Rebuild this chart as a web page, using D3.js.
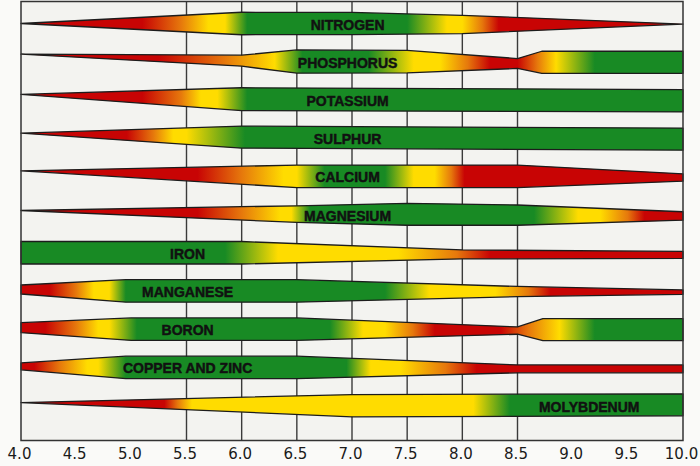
<!DOCTYPE html>
<html>
<head>
<meta charset="utf-8">
<script src="https://cdn.jsdelivr.net/npm/d3@7"></script>
<style>
  html, body { margin: 0; padding: 0; background: #fafaf8; }
  svg { display: block; }
</style>
</head>
<body>
<svg id="chart" width="700" height="466"></svg>
<script>
// ---------- DATA ----------
const phTicks = [4.0, 4.5, 5.0, 5.5, 6.0, 6.5, 7.0, 7.5, 8.0, 8.5, 9.0, 9.5, 10.0];
const gridPH = [5.5, 6.0, 6.5, 7.0, 7.5, 8.0, 8.5];

const nutrients = ["NITROGEN", "PHOSPHORUS", "POTASSIUM", "SULPHUR", "CALCIUM",
  "MAGNESIUM", "IRON", "MANGANESE", "BORON", "COPPER AND ZINC", "MOLYBDENUM"];

// pH at which each label is centred
const labelPH = [6.96, 6.96, 6.96, 6.96, 6.96, 6.96, 5.51, 5.51, 5.51, 5.51, 9.15];

// band outline: [pH, upper edge, lower edge] (-1 = full upper, +1 = full lower)
const nitrogenShape   = [[4,0,0],[6,-1,1],[7,-0.98,0.98],[8,-0.73,0.9],[10,0.05,0.05]];
const phosphorusShape = [[4,-0.67,-0.67],[6,-0.58,0.4],[6.5,-1.05,1.02],[7.5,-1,1],[8.5,-0.28,0.6],[8.72,-0.93,1.03],[10,-0.93,1.03]];
const potassiumShape  = [[4,-0.49,-0.49],[6,-1.08,0.95],[10,-0.92,1.07]];
const sulphurShape    = [[4,-0.44,-0.44],[6,-1.07,0.89],[10,-0.89,1.07]];
const calciumShape    = [[4,-0.49,-0.49],[6.5,-1,1],[8.5,-1,1],[10,-0.22,0.43]];
const magnesiumShape  = [[4,-0.36,-0.36],[6.5,-0.78,0.7],[7.5,-1,0.95],[8.5,-0.85,0.95],[10,-0.25,0.5]];
const ironShape       = [[4,-1,1],[6,-1,1],[8,-0.25,0.55],[10,-0.12,0.5]];
const manganeseShape  = [[4,-0.53,0.27],[4.95,-1,1],[6.5,-1,1],[8.5,-0.4,0.5],[10,-0.09,0.3]];
const boronShape      = [[4,-0.58,0.31],[5.0,-1,1],[6.5,-1,1],[8.5,-0.2,0.45],[8.73,-0.93,1.02],[10,-0.93,1.02]];
const copperZincShape = [[4,-0.4,0.22],[4.95,-1,1],[6.5,-1,1],[8.5,-0.22,0.48],[10,-0.22,0.48]];
const molybdenumShape = [[4,-0.27,-0.27],[7,-0.98,1.0],[10,-1.05,0.9]];

// availability colour along pH: r = deficient, o, y = marginal, g = available
const nitrogenColor   = [[4,'r'],[5.1,'r'],[5.45,'o'],[5.7,'y'],[5.85,'y'],[6.05,'g'],[7.5,'g'],[7.86,'y'],[8.0,'y'],[8.18,'o'],[8.33,'r'],[10,'r']];
const phosphorusColor = [[4,'r'],[5.25,'r'],[5.85,'o'],[6.3,'y'],[6.55,'g'],[7.15,'g'],[7.56,'y'],[7.8,'y'],[8.05,'o'],[8.25,'r'],[8.5,'r'],[8.68,'o'],[8.85,'y'],[9.2,'g'],[10,'g']];
const potassiumColor  = [[4,'r'],[5.1,'r'],[5.45,'o'],[5.63,'y'],[5.78,'y'],[6.05,'g'],[10,'g']];
const sulphurColor    = [[4,'r'],[4.96,'r'],[5.2,'o'],[5.38,'y'],[5.5,'y'],[6.03,'g'],[10,'g']];
const calciumColor    = [[4,'r'],[5.6,'r'],[6.0,'o'],[6.38,'y'],[6.5,'y'],[6.75,'g'],[7.3,'g'],[7.56,'y'],[7.75,'y'],[7.9,'o'],[8.02,'r'],[10,'r']];
const magnesiumColor  = [[4,'r'],[5.6,'r'],[6.0,'o'],[6.35,'y'],[6.45,'y'],[6.62,'g'],[8.65,'g'],[9.05,'y'],[9.25,'y'],[9.5,'o'],[9.65,'r'],[10,'r']];
const ironColor       = [[4,'g'],[5.85,'g'],[6.33,'y'],[7.42,'y'],[7.95,'o'],[8.25,'r'],[10,'r']];
const manganeseColor  = [[4,'r'],[4.26,'r'],[4.5,'o'],[4.66,'y'],[4.8,'y'],[4.95,'g'],[7.3,'g'],[7.7,'y'],[8.3,'y'],[8.6,'o'],[8.8,'r'],[10,'r']];
const boronColor      = [[4,'r'],[4.22,'r'],[4.5,'o'],[4.7,'y'],[4.8,'y'],[5.05,'g'],[6.8,'g'],[7.1,'y'],[7.3,'y'],[7.55,'o'],[7.75,'r'],[8.35,'r'],[8.6,'o'],[8.88,'y'],[9.2,'g'],[10,'g']];
const copperZincColor = [[4,'r'],[4.12,'r'],[4.35,'o'],[4.6,'y'],[4.7,'y'],[4.95,'g'],[6.95,'g'],[7.17,'y'],[7.44,'y'],[7.85,'o'],[8.13,'r'],[10,'r']];
const molybdenumColor = [[4,'r'],[5.3,'r'],[5.42,'o'],[5.55,'y'],[7.74,'y'],[8.1,'y'],[8.43,'g'],[10,'g']];

const shapes = [nitrogenShape, phosphorusShape, potassiumShape, sulphurShape, calciumShape,
  magnesiumShape, ironShape, manganeseShape, boronShape, copperZincShape, molybdenumShape];
const colors = [nitrogenColor, phosphorusColor, potassiumColor, sulphurColor, calciumColor,
  magnesiumColor, ironColor, manganeseColor, boronColor, copperZincColor, molybdenumColor];

const palette = { r: '#c80404', o: '#e6780c', y: '#ffdc00', g: '#188a24' };

// ---------- CHART ----------
const svg = d3.select('#chart');
const x = d3.scaleLinear().domain([4, 10]).range([21, 683]);
const rowY = d3.scalePoint().domain(nutrients).range([23.5, 405.6]);
const halfBand = 11.25;
const plotTop = 1.5, plotBottom = 440.5;

// plot background
svg.append('rect')
  .attr('x', x(4)).attr('y', plotTop)
  .attr('width', x(10) - x(4)).attr('height', plotBottom - plotTop)
  .attr('fill', '#f3f3f0');

// vertical grid
svg.append('g').selectAll('line').data(gridPH).join('line')
  .attr('x1', d => x(d)).attr('x2', d => x(d))
  .attr('y1', plotTop).attr('y2', plotBottom)
  .attr('stroke', '#3a3a3a').attr('stroke-width', 1.4);

// gradients
const defs = svg.append('defs');
nutrients.forEach((n, i) => {
  const g = defs.append('linearGradient')
    .attr('id', 'grad' + i)
    .attr('gradientUnits', 'userSpaceOnUse')
    .attr('x1', x(4)).attr('x2', x(10)).attr('y1', 0).attr('y2', 0);
  g.selectAll('stop').data(colors[i]).join('stop')
    .attr('offset', d => (d[0] - 4) / 6)
    .attr('stop-color', d => palette[d[1]]);
});

// bands
const bands = svg.append('g');
nutrients.forEach((n, i) => {
  const c = rowY(n);
  const v = d3.scaleLinear().domain([-1, 1]).range([c - halfBand, c + halfBand]);
  const s = shapes[i];
  const pts = s.map(d => [x(d[0]), v(d[1])])
    .concat(s.slice().reverse().map(d => [x(d[0]), v(d[2])]));
  bands.append('path')
    .attr('d', d3.line()(pts) + 'Z')
    .attr('fill', `url(#grad${i})`)
    .attr('stroke', '#1c1c1c')
    .attr('stroke-width', 1.3)
    .attr('stroke-linejoin', 'round');
});

// band labels
svg.append('g').selectAll('text').data(nutrients).join('text')
  .attr('x', (d, i) => x(labelPH[i]))
  .attr('y', d => rowY(d) + 1)
  .attr('text-anchor', 'middle')
  .attr('dominant-baseline', 'central')
  .attr('font-family', '"Liberation Sans", Arial, sans-serif')
  .attr('font-weight', 'bold')
  .attr('font-size', 14)
  .attr('fill', '#111')
  .attr('stroke', '#111')
  .attr('stroke-width', 0.45)
  .text(d => d);

// frame
svg.append('rect')
  .attr('x', x(4)).attr('y', plotTop)
  .attr('width', x(10) - x(4)).attr('height', plotBottom - plotTop)
  .attr('fill', 'none').attr('stroke', '#333').attr('stroke-width', 1.5);

// x axis labels
const axis = svg.append('g')
  .attr('transform', `translate(0,${plotBottom})`)
  .call(d3.axisBottom(x).tickValues(phTicks).tickSize(0).tickPadding(8).tickFormat(d3.format('.1f')));
axis.select('.domain').remove();
axis.selectAll('text')
  .attr('font-family', '"DejaVu Sans", sans-serif')
  .attr('font-size', 15)
  .attr('fill', '#1a1a1a')
  .attr('dx', -2);
</script>
</body>
</html>
